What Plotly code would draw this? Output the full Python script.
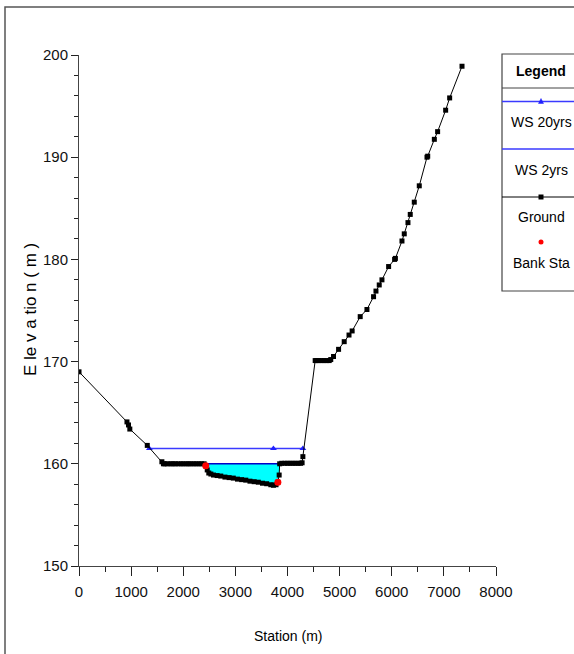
import plotly.graph_objects as go

# ---------------- data ----------------
ground_x = [0, 920, 950, 975, 1310, 1590, 1620, 1650, 1700, 1760, 1800, 1850, 1900, 1960,
            2000, 2060, 2100, 2150, 2200, 2250, 2300, 2350, 2400, 2432, 2460, 2490, 2530,
            2580, 2650, 2720, 2800, 2880, 2960, 3040, 3120, 3200, 3280, 3360, 3440, 3520,
            3600, 3680, 3730, 3780, 3815, 3840, 3850, 3890, 3950, 4000, 4050, 4100, 4150,
            4200, 4250, 4280, 4295, 4531, 4560, 4600, 4650, 4700, 4750, 4800, 4830, 4883,
            4980, 5088, 5180, 5240, 5395, 5524, 5651, 5697, 5760, 5812, 5940, 6055, 6070,
            6196, 6240, 6311, 6355, 6432, 6528, 6676, 6690, 6817, 6880, 7034, 7111, 7348]
ground_y = [169.0, 164.1, 163.8, 163.4, 161.8, 160.2, 160.0, 160.0, 160.0, 160.0, 160.0,
            160.0, 160.0, 160.0, 160.0, 160.0, 160.0, 160.0, 160.0, 160.0, 160.0, 160.0,
            160.0, 159.8, 159.4, 159.1, 159.0, 158.9, 158.85, 158.8, 158.7, 158.65, 158.6,
            158.5, 158.45, 158.4, 158.3, 158.25, 158.2, 158.1, 158.05, 157.95, 157.9, 157.95,
            158.2, 158.9, 160.0, 160.05, 160.05, 160.05, 160.05, 160.05, 160.05, 160.05,
            160.05, 160.1, 160.7, 170.1, 170.1, 170.1, 170.1, 170.1, 170.1, 170.1, 170.2,
            170.5, 171.2, 171.95, 172.6, 173.0, 174.4, 175.1, 176.35, 176.9, 177.5, 178.0,
            179.3, 180.0, 180.1, 181.8, 182.5, 183.6, 184.4, 185.6, 187.2, 190.0, 190.1,
            191.75, 192.5, 194.6, 195.8, 198.9]

bank_x = [2432, 3815]
bank_y = [159.8, 158.2]

ws20_x = [1350, 3730, 4295]
ws20_y = [161.5, 161.5, 161.5]

ws2_x = [1620, 4290]
ws2_y = [160.0, 160.0]

x_ticks = [0, 1000, 2000, 3000, 4000, 5000, 6000, 7000, 8000]
y_ticks = [150, 160, 170, 180, 190, 200]

legend_names = ["WS 20yrs", "WS 2yrs", "Ground", "Bank Sta"]

FONT = "Liberation Sans, Arial, sans-serif"

# ---------------- water fill (2yr profile) ----------------
ws2_level = ws2_y[0]
wet = [i for i, (gx, gy) in enumerate(zip(ground_x, ground_y))
       if bank_x[0] - 40 <= gx <= bank_x[1] + 40 and gy <= ws2_level]
fill_x = [ground_x[i] for i in wet] + [ground_x[wet[-1]], ground_x[wet[0]]]
fill_y = [ground_y[i] for i in wet] + [ws2_level, ws2_level]

fig = go.Figure()
fig.add_trace(go.Scatter(x=fill_x, y=fill_y, fill="toself", fillcolor="#00FFFF",
                         line=dict(width=0), mode="lines", hoverinfo="skip"))
fig.add_trace(go.Scatter(x=ws20_x, y=ws20_y, name=legend_names[0], mode="lines+markers",
                         line=dict(color="#3a3aff", width=1.5),
                         marker=dict(symbol="triangle-up", size=6, color="#2020ff")))
fig.add_trace(go.Scatter(x=ws2_x, y=ws2_y, name=legend_names[1], mode="lines",
                         line=dict(color="#0000c8", width=1.5)))
fig.add_trace(go.Scatter(x=ground_x, y=ground_y, name=legend_names[2], mode="lines+markers",
                         line=dict(color="black", width=1),
                         marker=dict(symbol="square", size=5, color="black")))
fig.add_trace(go.Scatter(x=bank_x, y=bank_y, name=legend_names[3], mode="markers",
                         marker=dict(symbol="circle", size=7, color="#ff0000")))

# ---------------- layout helpers (decoration only) ----------------
L, R, T, B = 79, 496, 55, 566
def px(xp):
    return (xp - L) / (R - L)
def py(yp):
    return (B - yp) / (B - T)

shapes = []
# outer frame
shapes.append(dict(type="rect", xref="paper", yref="paper", x0=px(5), x1=px(600),
                   y0=py(7), y1=py(700), line=dict(color="#555555", width=1.5)))
# legend box
lx0, ly0, ly1 = px(502), py(54), py(291)
shapes.append(dict(type="rect", xref="paper", yref="paper", x0=lx0, x1=px(600),
                   y0=ly0, y1=ly1, line=dict(color="#444444", width=1.2),
                   fillcolor="white", layer="above"))
shapes.append(dict(type="line", xref="paper", yref="paper", x0=lx0, x1=px(600),
                   y0=py(88), y1=py(88), line=dict(color="#444444", width=1)))
cx = px(541)
shapes.append(dict(type="line", xref="paper", yref="paper", x0=lx0, x1=px(600),
                   y0=py(101.5), y1=py(101.5), line=dict(color="#3a3aff", width=1.5)))
shapes.append(dict(type="path", xref="paper", yref="paper", xsizemode="pixel",
                   ysizemode="pixel", xanchor=cx, yanchor=py(101.5),
                   path="M -2.5 -2 L 2.5 -2 L 0 3 Z", fillcolor="#2020ff",
                   line=dict(color="#2020ff", width=0.5)))
shapes.append(dict(type="line", xref="paper", yref="paper", x0=lx0, x1=px(600),
                   y0=py(149), y1=py(149), line=dict(color="#3a3aff", width=1.5)))
shapes.append(dict(type="line", xref="paper", yref="paper", x0=lx0, x1=px(600),
                   y0=py(197), y1=py(197), line=dict(color="black", width=1)))
shapes.append(dict(type="rect", xref="paper", yref="paper", xsizemode="pixel",
                   ysizemode="pixel", xanchor=cx, yanchor=py(197),
                   x0=-2.5, x1=2.5, y0=-2.5, y1=2.5, fillcolor="black",
                   line=dict(color="black", width=0)))
shapes.append(dict(type="circle", xref="paper", yref="paper", xsizemode="pixel",
                   ysizemode="pixel", xanchor=cx, yanchor=py(242),
                   x0=-2.5, x1=2.5, y0=-2.5, y1=2.5, fillcolor="#ff0000",
                   line=dict(color="#ff0000", width=0)))

def ann(text, x, y, size, angle=0):
    return dict(text=text, x=x, y=y, xref="paper", yref="paper", showarrow=False,
                xanchor="center", yanchor="middle", textangle=angle,
                font=dict(family=FONT, size=size, color="black"))

annotations = [
    ann("<b>Legend</b>", cx, py(71), 14),
    ann(legend_names[0], cx, py(122), 14),
    ann(legend_names[1], cx, py(170), 14),
    ann(legend_names[2], cx, py(217), 14),
    ann(legend_names[3], cx, py(263), 14),
    ann("Station (m)", px(287.5), py(636), 14),
    ann("E le v a tio n ( m )", px(30), py(310), 17, -90),
]

fig.update_layout(
    width=574, height=654,
    margin=dict(l=L, r=574 - R, t=T, b=654 - B),
    paper_bgcolor="white", plot_bgcolor="white",
    showlegend=False,
    shapes=shapes, annotations=annotations,
    xaxis=dict(range=[0, 8000], tickvals=x_ticks, ticktext=[str(v) for v in x_ticks],
               showgrid=False, zeroline=False, showline=True, linecolor="#444444",
               linewidth=1, ticks="outside", ticklen=9, tickcolor="#222222",
               ticklabelstandoff=3,
               minor=dict(dtick=500, ticks="outside", ticklen=5, tickcolor="#222222"),
               tickfont=dict(family=FONT, size=15, color="#111111")),
    yaxis=dict(range=[150, 200], tickvals=y_ticks, ticktext=[str(v) for v in y_ticks],
               showgrid=False, zeroline=False, showline=True, linecolor="#444444",
               linewidth=1, ticks="outside", ticklen=7, tickcolor="#222222",
               minor=dict(dtick=2, ticks="outside", ticklen=4, tickcolor="#222222"),
               tickfont=dict(family=FONT, size=15, color="#111111")),
)

fig.write_html("out.html", config={"displayModeBar": False},
               post_script="document.body.style.margin='0px';"
                           "document.body.style.overflow='hidden';")
